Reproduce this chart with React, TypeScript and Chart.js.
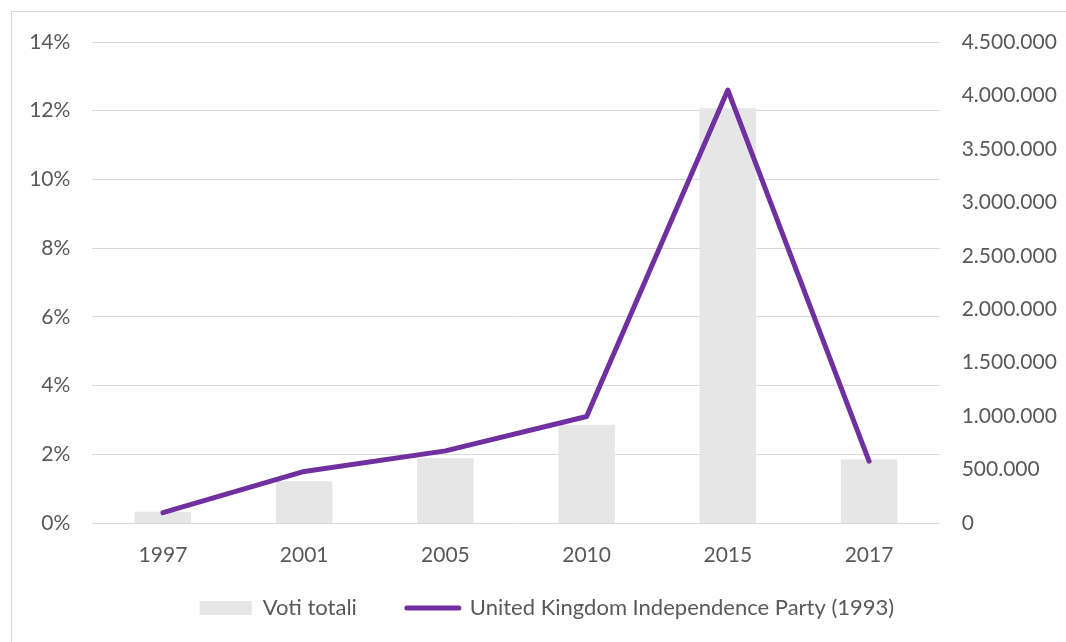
import React, { useEffect, useRef } from 'react';
import { Chart, registerables } from 'chart.js';

Chart.register(...registerables);

const years = ['1997', '2001', '2005', '2010', '2015', '2017'];
const totalVotes = [105722, 390563, 605973, 919471, 3881099, 594068];
const voteShare = [0.3, 1.5, 2.1, 3.1, 12.6, 1.8];

const barLabel = 'Voti totali';
const lineLabel = 'United Kingdom Independence Party (1993)';

const shareMax = 14;
const shareStep = 2;
const votesMax = 4500000;
const votesStep = 500000;

const FONT = { family: 'Lato', size: 21 };
const LEGEND_FONT = { family: 'Lato', size: 22 };
const TEXT = '#595959';
const GRID = '#d9d9d9';
const BAR = '#e6e6e6';
const LINE = '#7030a0';

const fmtVotes = (v: number) => String(Math.round(v)).replace(/\B(?=(\d{3})+(?!\d))/g, '.');

// The legend's item padding also pads it vertically; extend its box upward after layout
// so the row sits where it should.
const legendShift = {
  id: 'legendShift',
  afterLayout(chart: any) {
    const lg = chart.legend;
    if (lg) {
      lg.top -= 28;
      lg.height += 28;
    }
  },
};

export default function App() {
  const ref = useRef<HTMLCanvasElement | null>(null);

  useEffect(() => {
    if (!ref.current) return;
    const chart = new Chart(ref.current, {
      type: 'bar',
      data: {
        labels: years,
        datasets: [
          {
            type: 'bar',
            label: barLabel,
            data: totalVotes,
            yAxisID: 'y2',
            backgroundColor: BAR,
            categoryPercentage: 1,
            barPercentage: 0.4,
            order: 2,
          } as any,
          {
            type: 'line',
            label: lineLabel,
            data: voteShare,
            yAxisID: 'y',
            borderColor: LINE,
            backgroundColor: LINE,
            borderWidth: 5,
            pointRadius: 0,
            borderCapStyle: 'round',
            borderJoinStyle: 'round',
            tension: 0,
            order: 1,
          } as any,
        ],
      },
      plugins: [legendShift],
      options: {
        animation: false,
        responsive: false,
        maintainAspectRatio: false,
        layout: { padding: { left: 28, right: 0, top: 42, bottom: 0 } },
        plugins: {
          tooltip: { enabled: false },
          legend: {
            position: 'bottom',
            maxHeight: 67,
            labels: {
              usePointStyle: true,
              pointStyleWidth: 52,
              boxHeight: 14,
              padding: 50,
              font: LEGEND_FONT,
              color: TEXT,
              generateLabels: () => [
                {
                  text: barLabel,
                  fillStyle: BAR,
                  strokeStyle: BAR,
                  lineWidth: 0,
                  pointStyle: 'rect',
                  datasetIndex: 0,
                  hidden: false,
                  fontColor: TEXT,
                } as any,
                {
                  text: lineLabel,
                  fillStyle: LINE,
                  strokeStyle: LINE,
                  lineWidth: 5,
                  lineCap: 'round',
                  pointStyle: 'line',
                  datasetIndex: 1,
                  hidden: false,
                  fontColor: TEXT,
                } as any,
              ],
            },
          },
        },
        scales: {
          x: {
            offset: true,
            grid: { display: false, drawTicks: false },
            border: { display: false },
            ticks: { font: FONT, color: TEXT, padding: 20, autoSkip: false, maxRotation: 0 },
            afterFit: (s: any) => { s.height = 52; },
          },
          y: {
            position: 'left',
            min: 0,
            max: shareMax,
            ticks: {
              stepSize: shareStep,
              font: FONT,
              color: TEXT,
              padding: 22,
              callback: (v: any) => `${v}%`,
            },
            grid: { color: GRID, lineWidth: 1, drawTicks: false },
            border: { display: false },
            afterFit: (s: any) => { s.width = 64.35; },
          },
          y2: {
            position: 'right',
            min: 0,
            max: votesMax,
            ticks: {
              stepSize: votesStep,
              font: FONT,
              color: TEXT,
              padding: 22,
              callback: (v: any) => fmtVotes(Number(v)),
            },
            grid: { display: false, drawTicks: false },
            border: { display: false },
            afterFit: (s: any) => { s.width = 126.35; },
          },
        },
      } as any,
    });
    return () => chart.destroy();
  }, []);

  return (
    <div
      style={{
        position: 'fixed',
        left: 0,
        top: 0,
        width: 1066,
        height: 642,
        overflow: 'hidden',
        background: '#ffffff',
      }}
    >
      <canvas ref={ref} width={1066} height={642} style={{ position: 'absolute', left: 0, top: 0 }} />
      <div
        style={{
          position: 'absolute',
          left: 11,
          top: 11,
          width: 1100,
          height: 700,
          border: '1px solid ' + GRID,
          pointerEvents: 'none',
        }}
      />
    </div>
  );
}
